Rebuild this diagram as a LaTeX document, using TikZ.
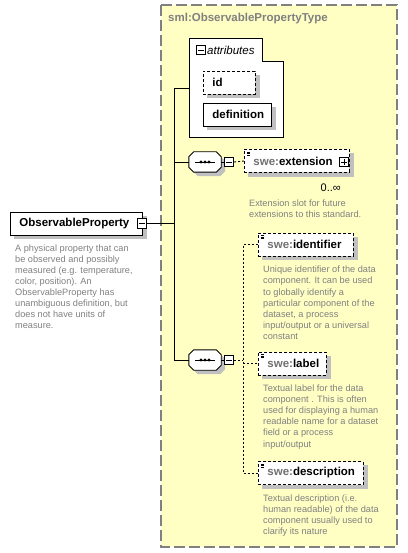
\documentclass[tikz,border=0pt]{standalone}
\usepackage{fontspec}
\setmainfont{Liberation Sans}
\usetikzlibrary{positioning}
\definecolor{typeyellow}{RGB}{255, 255, 196}
\definecolor{frameline}{RGB}{128, 128, 128}
\definecolor{docgray}{RGB}{128, 128, 128}
\definecolor{prefixgray}{RGB}{112, 112, 112}
\definecolor{shadowgray}{RGB}{192, 192, 192}
\pgfdeclarelayer{frame}
\pgfdeclarelayer{shade}
\pgfsetlayers{frame,shade,main}
\newcommand{\namefont}{\fontsize{11.5}{13}\selectfont\bfseries}
\newcommand{\docfont}{\fontsize{9.2}{11.1}\selectfont}
\newcommand{\pfx}[1]{\textcolor{prefixgray}{#1}}
\newcommand{\octpath}[1]{([xshift=5pt]#1.north west) -- ([xshift=-5pt]#1.north east) -- ([yshift=-5pt]#1.north east) -- ([yshift=5pt]#1.south east) -- ([xshift=-5pt]#1.south east) -- ([xshift=5pt]#1.south west) -- ([yshift=5pt]#1.south west) -- ([yshift=-5pt]#1.north west) -- cycle}
\tikzstyle{elem} = [rectangle, draw=black, fill=white, line width=0.9pt, minimum height=23pt, inner xsep=9pt, inner ysep=0pt, align=left, font=\namefont, anchor=west]
\tikzstyle{optional} = [dash pattern=on 3pt off 2pt]
\tikzstyle{withdoc} = [path picture={\foreach \k in {0,1,2} {\draw[line width=0.6pt] ([xshift=2.5pt, yshift={-2.5pt-\k*1.6pt}]path picture bounding box.north west) -- ++(4.5pt,0pt);}}]
\tikzstyle{togglebox} = [rectangle, draw=black, fill=white, line width=0.9pt, minimum size=9.5pt, inner sep=0pt]
\tikzstyle{minusbox} = [togglebox, path picture={\draw[line width=0.9pt] ([xshift=2pt]path picture bounding box.west) -- ([xshift=-2pt]path picture bounding box.east);}]
\tikzstyle{plusbox} = [togglebox, path picture={\draw[line width=0.9pt] ([xshift=2pt]path picture bounding box.west) -- ([xshift=-2pt]path picture bounding box.east); \draw[line width=0.9pt] ([yshift=-2pt]path picture bounding box.north) -- ([yshift=2pt]path picture bounding box.south);}]
\tikzstyle{seq} = [rectangle, minimum width=32pt, minimum height=20pt, inner sep=0pt]
\tikzstyle{doc} = [anchor=north west, inner sep=0pt, align=left, font=\docfont, text=docgray]
\tikzstyle{wire} = [line width=0.9pt]
\tikzstyle{optwire} = [wire, dash pattern=on 2pt off 2pt]

\begin{document}
\begin{tikzpicture}[x=1pt, y=-1pt]
    \useasboundingbox (0,0) rectangle (407,553);
    % complex type frame
    \begin{pgfonlayer}{frame}
        \draw[frameline, line width=1.3pt, dash pattern=on 11pt off 4pt, fill=typeyellow] (161,5) rectangle (397,547);
    \end{pgfonlayer}
    \node[anchor=west, font=\namefont, text=frameline, inner sep=0pt] (typeTitle) at (168,19) {sml:ObservablePropertyType};

    % attribute group
    \begin{pgfonlayer}{shade}
        \draw[wire, fill=white] (189,38) -- (262,38) -- (262,61) -- (283,61) -- (283,137) -- (189,137) -- cycle;
    \end{pgfonlayer}
    \node[minusbox] (attrMinus) at (201,50) {};
    \node[anchor=west, inner sep=0pt, font=\fontsize{11.5}{13}\selectfont\itshape] (attrLabel) at (207,50) {attributes};
    \node[elem, optional, text width=34pt] (attrId) at (203,82.5) {id};
    \node[elem, text width=50pt] (attrDef) at (203,114.5) {definition};

    % root element
    \node[elem, text width=114pt] (mainElem) at (10,223.5) {ObservableProperty};
    \node[minusbox] (mainMinus) at (142,223.5) {};
    \node[doc] (mainDoc) at (15,244.4) {A physical property that can\\be observed and possibly\\measured (e.g. temperature,\\color, position). An\\ObservableProperty has\\unambiguous definition, but\\does not have units of\\measure.};

    % sequences
    \node[seq] (seqA) at (205,162) {};
    \node[seq] (seqB) at (205,360) {};
    \foreach \s in {seqA, seqB} {
        \draw[wire, fill=white] \octpath{\s};
        \draw[wire] ([xshift=-10pt]\s.center) -- ([xshift=10pt]\s.center);
        \foreach \d in {-4,0,4} \fill ([xshift=\d pt]\s.center) circle (1.6pt);
    }
    \node[minusbox] (seqAMinus) at (229,162) {};
    \node[minusbox] (seqBMinus) at (229,360) {};

    % extension slot
    \node[elem, optional, withdoc, text width=87pt] (ext) at (244,161) {\pfx{swe:}extension};
    \node[plusbox] (extPlus) at (344,162) {};
    \node[anchor=east, inner sep=0pt, font=\fontsize{11}{13}\selectfont] (extCard) at (341,188) {0..∞};
    \node[doc] (extDoc) at (249,199.7) {Extension slot for future\\extensions to this standard.};

    % optional children
    \node[elem, optional, withdoc, text width=77pt] (ident) at (258,244.5) {\pfx{swe:}identifier};
    \node[doc] (identDoc) at (263,266) {Unique identifier of the data\\component. It can be used\\to globally identify a\\particular component of the\\dataset, a process\\input/output or a universal\\constant};
    \node[elem, optional, withdoc, text width=50pt] (label) at (258,363.5) {\pfx{swe:}label};
    \node[doc] (labelDoc) at (263,384.7) {Textual label for the data\\component . This is often\\used for displaying a human\\readable name for a dataset\\field or a process\\input/output};
    \node[elem, optional, withdoc, text width=87pt] (descr) at (258,473) {\pfx{swe:}description};
    \node[doc] (descrDoc) at (263,494.7) {Textual description (i.e.\\human readable) of the data\\component usually used to\\clarify its nature};

    % shadows
    \begin{pgfonlayer}{shade}
        \begin{scope}[transform canvas={xshift=4pt, yshift=-4pt}]
            \foreach \n in {attrId, attrDef, mainElem, ext, ident, label, descr}
                \fill[shadowgray] (\n.south west) rectangle (\n.north east);
            \foreach \s in {seqA, seqB}
                \fill[shadowgray] \octpath{\s};
        \end{scope}
    \end{pgfonlayer}

    % connectors
    \coordinate (busTop) at (174,88);
    \coordinate (busEnd) at (174,360);
    \coordinate (attrIn) at (189,88);
    \coordinate (choiceTop) at (243,244.5);
    \coordinate (choiceEnd) at (243,473);
    \draw[wire] (mainMinus.east) -- (mainMinus.east -| busTop);
    \draw[wire] (attrIn) -- (busTop) -- (busEnd) -- (seqB.west);
    \draw[wire] (seqA.west -| busTop) -- (seqA.west);
    \draw[wire] (seqA.east) -- (seqAMinus.west);
    \draw[wire] (seqB.east) -- (seqBMinus.west);
    \draw[optwire] (seqAMinus.east) -- (ext.west);
    \draw[optwire] (seqBMinus.east) -- (seqBMinus.east -| choiceTop);
    \draw[optwire] (ident.west) -- (choiceTop) -- (choiceEnd) -- (descr.west);
    \draw[optwire] (label.west -| choiceTop) -- (label.west);
\end{tikzpicture}
\end{document}
